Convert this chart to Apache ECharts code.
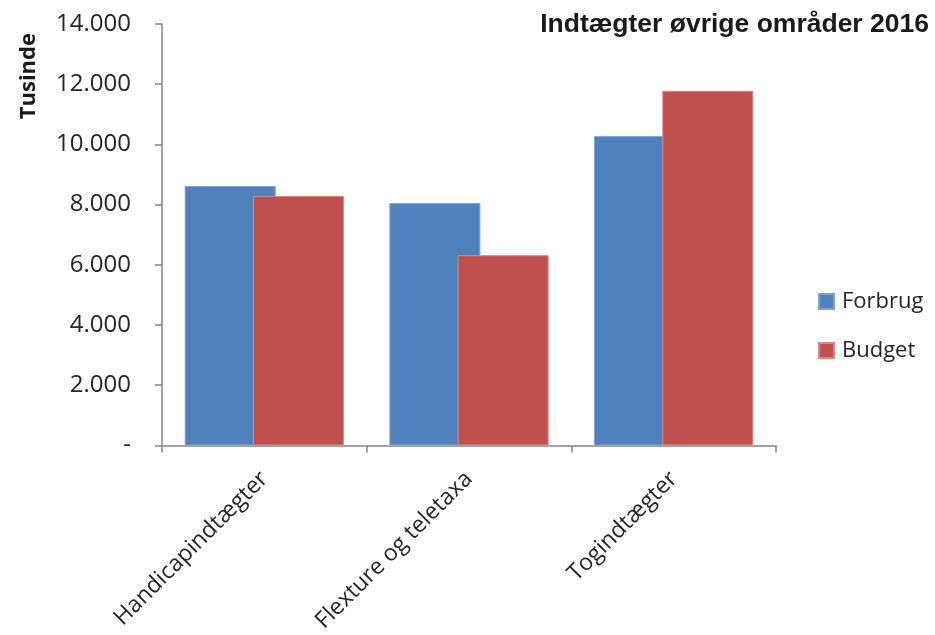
<!DOCTYPE html>
<html>
<head>
<meta charset="utf-8">
<script src="https://cdn.jsdelivr.net/npm/echarts@6/dist/echarts.min.js"></script>
<style>html,body{margin:0;padding:0;background:#fff}#c{width:935px;height:635px}</style>
</head>
<body>
<div id="c"></div>
<script>
const categories = ['Handicapindtægter', 'Flexture og teletaxa', 'Togindtægter'];
const forbrug = [8620, 8050, 10280];
const budget = [8290, 6320, 11780];
const seriesNames = ['Forbrug', 'Budget'];
const titleText = 'Indtægter øvrige områder 2016';
const yAxisName = 'Tusinde';

const chart = echarts.init(document.getElementById('c'), null, {renderer: 'canvas'});
const font = '"Open Sans", sans-serif';
chart.setOption({
  animation: false,
  backgroundColor: '#ffffff',
  title: {
    text: titleText,
    right: 6, top: 11, padding: 0,
    textStyle: {fontFamily: 'Liberation Sans, Arial, sans-serif', fontWeight: 'bold', fontSize: 26.5, color: '#1a1a1a'}
  },
  legend: {
    orient: 'vertical',
    left: 818, top: 290, padding: 0,
    itemWidth: 15, itemHeight: 15, itemGap: 26,
    icon: 'rect',
    data: seriesNames,
    textStyle: {fontFamily: font, fontSize: 22, color: '#262626', padding: [0, 0, 0, 3], lineHeight: 23}
  },
  graphic: [{
    type: 'text',
    left: 18, top: 33,
    rotation: Math.PI / 2,
    style: {text: yAxisName, fontFamily: font, fontWeight: 'bold', fontSize: 22, fill: '#1a1a1a'}
  }],
  grid: {left: 162, right: 159, top: 24, bottom: 189, containLabel: false},
  xAxis: {
    type: 'category',
    data: categories,
    axisLine: {lineStyle: {color: '#868686', width: 1.5}},
    axisTick: {show: true, length: 7, lineStyle: {color: '#868686', width: 1.5}},
    axisLabel: {rotate: 45, margin: 30, fontFamily: font, fontSize: 23, color: '#262626'}
  },
  yAxis: {
    type: 'value',
    min: 0, max: 14000, interval: 2000,
    axisLine: {show: true, lineStyle: {color: '#868686', width: 1.5}},
    axisTick: {show: true, length: 7, lineStyle: {color: '#868686', width: 1.5}},
    splitLine: {show: false},
    axisLabel: {
      margin: 31,
      fontFamily: font, fontSize: 24, color: '#262626',
      formatter: function (v) { return v === 0 ? '-' : String(v).replace(/\B(?=(\d{3})+(?!\d))/g, '.'); }
    }
  },
  series: [
    {name: seriesNames[0], type: 'bar', data: forbrug, barWidth: 91, barGap: '-25%',
     itemStyle: {color: '#4F81BD', borderColor: '#7FA3CF', borderWidth: 1}},
    {name: seriesNames[1], type: 'bar', data: budget, barWidth: 91, barGap: '-25%',
     itemStyle: {color: '#C0504D', borderColor: '#D98886', borderWidth: 1}}
  ]
});
</script>
</body>
</html>
